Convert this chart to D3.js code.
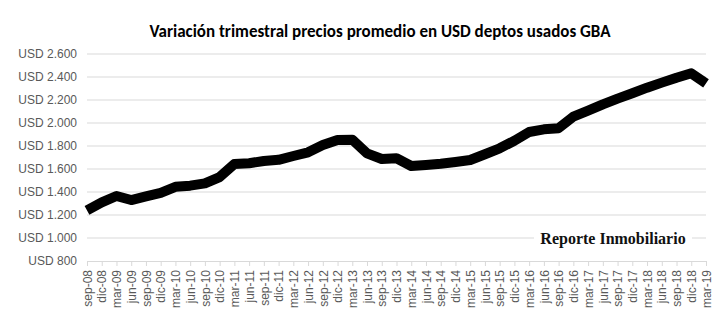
<!DOCTYPE html>
<html>
<head>
<meta charset="utf-8">
<script src="https://cdn.jsdelivr.net/npm/d3@7"></script>
<style>
  html, body { margin: 0; padding: 0; background: #fff; }
  svg { display: block; }
</style>
</head>
<body>
<svg id="chart" width="726" height="328"></svg>
<script>
// Quarterly labels (sep-08 .. mar-19)
const quarters = [
  "sep-08","dic-08",
  "mar-09","jun-09","sep-09","dic-09",
  "mar-10","jun-10","sep-10","dic-10",
  "mar-11","jun-11","sep-11","dic-11",
  "mar-12","jun-12","sep-12","dic-12",
  "mar-13","jun-13","sep-13","dic-13",
  "mar-14","jun-14","sep-14","dic-14",
  "mar-15","jun-15","sep-15","dic-15",
  "mar-16","jun-16","sep-16","dic-16",
  "mar-17","jun-17","sep-17","dic-17",
  "mar-18","jun-18","sep-18","dic-18",
  "mar-19"
];

// Average price, USD per m², used apartments in GBA
const precios = [
  1240, 1310,
  1365, 1330, 1362, 1393,
  1445, 1455, 1475, 1530,
  1643, 1650, 1670, 1680,
  1713, 1745, 1808, 1852,
  1855, 1736, 1687, 1693,
  1626, 1635, 1646, 1661,
  1678, 1728, 1780, 1846,
  1922, 1945, 1955, 2055,
  2107, 2162, 2212, 2258,
  2307, 2351, 2394, 2432,
  2345
];

const yTicks = [800, 1000, 1200, 1400, 1600, 1800, 2000, 2200, 2400, 2600];

const titulo = "Variación trimestral precios promedio en USD deptos usados GBA";
const marca = "Reporte Inmobiliario";

const svg = d3.select("#chart");
const plotLeft = 87, plotRight = 706, plotTop = 54, plotBottom = 261;

const x = d3.scalePoint().domain(quarters).range([plotLeft, plotRight]);
const y = d3.scaleLinear().domain([800, 2600]).range([plotBottom, plotTop]);

const es = d3.formatLocale({ decimal: ",", thousands: ".", grouping: [3], currency: ["", ""] });
const fmt = es.format(",");

// Title
svg.append("text")
  .attr("x", 380).attr("y", 37)
  .attr("text-anchor", "middle")
  .attr("font-family", "Carlito, 'Open Sans', 'Noto Sans', sans-serif")
  .attr("font-weight", "bold")
  .attr("font-size", 17)
  .attr("fill", "#000")
  .text(titulo);

// Horizontal gridlines
svg.append("g")
  .selectAll("line")
  .data(yTicks.slice(1))
  .join("line")
  .attr("x1", plotLeft).attr("x2", plotRight)
  .attr("y1", d => y(d)).attr("y2", d => y(d))
  .attr("stroke", "#d9d9d9").attr("stroke-width", 1);

// Y axis labels
const yAxis = svg.append("g")
  .attr("transform", `translate(${plotLeft - 10},0)`)
  .call(d3.axisLeft(y).tickValues(yTicks).tickSize(0).tickPadding(0)
    .tickFormat(d => "USD " + fmt(d)));
yAxis.select(".domain").remove();
yAxis.selectAll("text")
  .attr("font-family", "'Liberation Sans', Arial, sans-serif")
  .attr("font-size", 12)
  .attr("fill", "#595959");

// X axis with category ticks and rotated labels
const xAxis = svg.append("g")
  .attr("transform", `translate(0,${plotBottom})`)
  .call(d3.axisBottom(x).tickSize(5).tickPadding(4));
xAxis.select(".domain").attr("stroke", "#d9d9d9").attr("d", `M${plotLeft},0.5H${plotRight}`);
xAxis.selectAll(".tick line").attr("stroke", "#d9d9d9");
xAxis.selectAll("text")
  .attr("font-family", "'Liberation Sans', Arial, sans-serif")
  .attr("font-size", 12)
  .attr("fill", "#595959")
  .attr("text-anchor", "end")
  .attr("transform", "rotate(-90)")
  .attr("x", -9)
  .attr("y", 0)
  .attr("dy", "0.35em");

// Watermark with a white backing box over the gridline
const wm = svg.append("g");
wm.append("rect")
  .attr("x", 534).attr("y", 228).attr("width", 158).attr("height", 20)
  .attr("fill", "#fff");
wm.append("text")
  .attr("x", 613).attr("y", 244)
  .attr("text-anchor", "middle")
  .attr("font-family", "'Liberation Serif', 'DejaVu Serif', serif")
  .attr("font-weight", "bold")
  .attr("font-size", 16)
  .attr("fill", "#111")
  .text(marca);

// Price line
const line = d3.line()
  .x((d, i) => x(quarters[i]))
  .y(d => y(d));

svg.append("path")
  .datum(precios)
  .attr("d", line)
  .attr("fill", "none")
  .attr("stroke", "#000")
  .attr("stroke-width", 10)
  .attr("stroke-linejoin", "round");
</script>
</body>
</html>
